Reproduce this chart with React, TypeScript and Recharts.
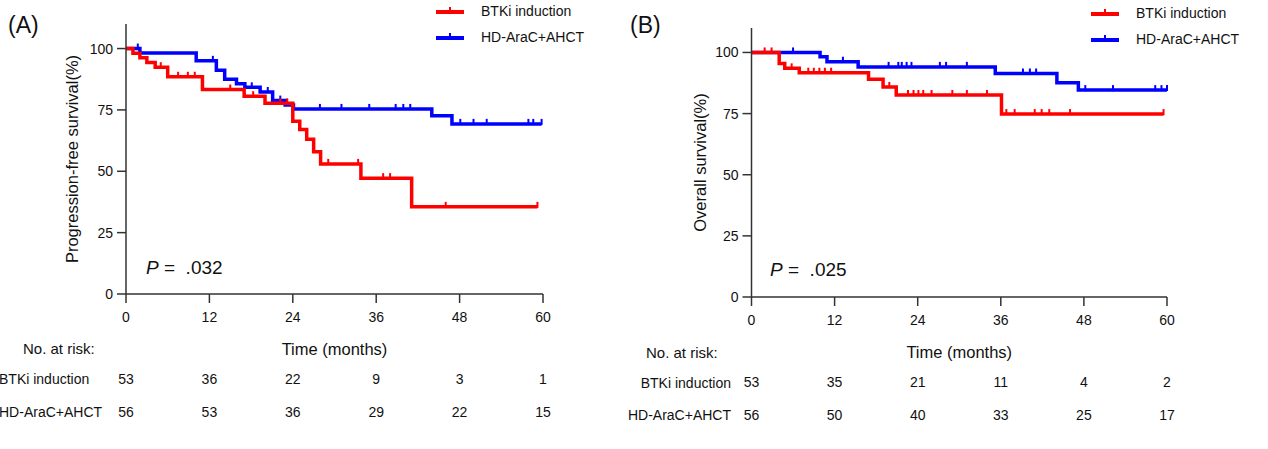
import React from 'react';
import { ComposedChart, Line, XAxis, YAxis } from 'recharts';

const months = [0, 12, 24, 36, 48, 60];
const survTicks = [0, 25, 50, 75, 100];
const groups = ['BTKi induction', 'HD-AraC+AHCT'];

// (A) progression-free survival: [month, %] after each drop, censor times
const pfsBtkiSteps = [[0, 100], [1, 98.1], [2, 96.2], [3, 94.3], [4.2, 92.4], [6, 88.5], [11, 83.3], [17, 80.6], [20, 77.7], [24, 70.4], [25, 67], [26, 63], [27, 58], [28, 53], [33.8, 47.2], [41.1, 35.5]];
const pfsBtkiCensor = [5, 7.5, 8.9, 9.9, 15, 18.3, 22.2, 23.2, 29.1, 33.4, 37, 38, 46, 59.2];
const pfsHdSteps = [[0, 100], [2, 98.2], [10.1, 95], [13, 91.2], [14.2, 87.5], [15.9, 85.7], [17.1, 84.2], [19.3, 82.3], [21.1, 78.8], [22.9, 77], [24.1, 75.4], [44, 72.6], [46.9, 69.3]];
const pfsHdCensor = [1.7, 12.5, 18.1, 20.4, 22.2, 27.9, 31, 35, 38.8, 39.9, 40.9, 48.1, 50, 51.9, 57.9, 58.6, 59.8];
const pfsRiskBtki = [53, 36, 22, 9, 3, 1];
const pfsRiskHd = [56, 53, 36, 29, 22, 15];

// (B) overall survival
const osBtkiSteps = [[0, 100], [4, 95.5], [4.8, 93.5], [6.9, 91.7], [16.9, 89], [19, 85.9], [20.9, 82.6], [36.1, 74.8]];
const osBtkiCensor = [1.9, 2.9, 5.8, 8.2, 9, 9.8, 10.6, 11.5, 19.9, 22.6, 23.4, 24.1, 24.8, 26, 29, 31.1, 34, 36.8, 38, 40.9, 41.9, 43, 46, 59.5];
const osHdSteps = [[0, 100], [9.9, 98.2], [10.9, 96.2], [15.4, 94.1], [35.2, 91.4], [44.1, 87.6], [47.2, 84.6]];
const osHdCensor = [6, 13.2, 19.8, 21.2, 21.7, 22.4, 23.1, 27.2, 28.1, 31.1, 39.2, 40.2, 41.1, 48.2, 52.2, 58.3, 59.2, 60];
const osRiskBtki = [53, 35, 21, 11, 4, 2];
const osRiskHd = [56, 50, 40, 33, 25, 17];

const RED = '#ff0000';
const BLUE = '#0000ff';
const FONT = '"Liberation Sans", Arial, sans-serif';
const AXIS = '#333';

function buildSeries(steps: number[][], censor: number[]) {
  const pts = steps.map(([t, v]) => ({ t, v, c: false }));
  censor.forEach((t) => {
    let v = steps[0][1];
    steps.forEach((s) => { if (s[0] <= t) v = s[1]; });
    pts.push({ t, v, c: true });
  });
  return pts.sort((a, b) => a.t - b.t);
}

const censorDot = (color: string) => (p: any) => {
  if (!p.payload || !p.payload.c) return <g key={p.index} />;
  return <line key={p.index} x1={p.cx} x2={p.cx} y1={p.cy - 5} y2={p.cy + 1} stroke={color} strokeWidth={2} />;
};

const riskTick = (rows: number[][]) => (p: any) => {
  const { x, y, payload, index } = p;
  return (
    <g>
      <text x={x} y={y} dy="0.71em" textAnchor="middle" fontSize={14} fill="#111" fontFamily={FONT}>{payload.value}</text>
      {rows.map((r, i) => (
        <text key={i} x={x} y={y + 67 + i * 33} dy="0.35em" textAnchor="middle" fontSize={14} fill="#111" fontFamily={FONT}>{r[index]}</text>
      ))}
    </g>
  );
};

function LegendBox({ left, top }: { left: number; top: number }) {
  const colors = [RED, BLUE];
  return (
    <div style={{ position: 'absolute', left, top, fontFamily: FONT, fontSize: 14, color: '#111' }}>
      {groups.map((g, i) => (
        <div key={g} style={{ display: 'flex', alignItems: 'center', height: 26 }}>
          <svg width={30} height={10}>
            <line x1={1} x2={29} y1={6} y2={6} stroke={colors[i]} strokeWidth={4} />
            <line x1={15} x2={15} y1={1} y2={6} stroke={colors[i]} strokeWidth={2} />
          </svg>
          <span style={{ marginLeft: 16 }}>{g}</span>
        </div>
      ))}
    </div>
  );
}

type PanelProps = {
  left: number; width: number; top: number; bottom: number; axisLeft: number; labelX: number; right: number;
  yLabel: string; btki: any[]; hd: any[]; risk: number[][];
};

function Panel(p: PanelProps) {
  return (
    <div style={{ position: 'absolute', left: p.left, top: 0 }}>
      <ComposedChart width={p.width} height={449}
        margin={{ top: p.top, right: p.right, bottom: 449 - p.bottom - 30, left: p.labelX }}>
        <XAxis type="number" dataKey="t" domain={[0, 60]} ticks={months} height={30}
          tickSize={9} tickMargin={9} stroke={AXIS} strokeWidth={1.5}
          tick={riskTick(p.risk)}
          label={{ value: 'Time (months)', position: 'bottom', offset: 19, fontSize: 16.5, fill: '#111', fontFamily: FONT }} />
        <YAxis type="number" domain={[0, 110]} ticks={survTicks} width={p.axisLeft - p.labelX}
          tickSize={9} tickMargin={4} stroke={AXIS} strokeWidth={1.5}
          tick={{ fontSize: 14, fill: '#111', fontFamily: FONT }}
          label={{ value: p.yLabel, angle: -90, position: 'center', fontSize: 16.5, fill: '#111', fontFamily: FONT }} />
        <Line data={p.hd} dataKey="v" type="stepAfter" stroke={BLUE} strokeWidth={3.5}
          dot={censorDot(BLUE)} activeDot={false} isAnimationActive={false} />
        <Line data={p.btki} dataKey="v" type="stepAfter" stroke={RED} strokeWidth={3.5}
          dot={censorDot(RED)} activeDot={false} isAnimationActive={false} />
      </ComposedChart>
    </div>
  );
}

const txt = (left: number, top: number, s: React.ReactNode, size = 14, extra: any = {}) => (
  <div style={{ position: 'absolute', left, top, fontFamily: FONT, fontSize: size, color: '#111', lineHeight: '20px', whiteSpace: 'nowrap', ...extra }}>{s}</div>
);

export default function App() {
  return (
    <div style={{ position: 'absolute', left: 0, top: 0, width: 1268, height: 449, background: '#fff', overflow: 'hidden' }}>
      <Panel left={0} width={620} top={24} bottom={294} axisLeft={126} labelX={18} right={77}
        yLabel="Progression-free survival(%)"
        btki={buildSeries(pfsBtkiSteps, pfsBtkiCensor)} hd={buildSeries(pfsHdSteps, pfsHdCensor)}
        risk={[pfsRiskBtki, pfsRiskHd]} />
      <Panel left={620} width={648} top={28} bottom={297} axisLeft={131.5} labelX={28} right={101}
        yLabel="Overall survival(%)"
        btki={buildSeries(osBtkiSteps, osBtkiCensor)} hd={buildSeries(osHdSteps, osHdCensor)}
        risk={[osRiskBtki, osRiskHd]} />

      {txt(8, 12, '(A)', 23, { lineHeight: '26px' })}
      {txt(630, 12, '(B)', 23, { lineHeight: '26px' })}
      <LegendBox left={435} top={-2} />
      <LegendBox left={1090} top={0} />

      {txt(146, 258, <><i>P</i> =&nbsp; .032</>, 19)}
      {txt(770, 260, <><i>P</i> =&nbsp; .025</>, 19)}

      {txt(23, 339, 'No. at risk:', 15)}
      {txt(-1, 369, groups[0])}
      {txt(-1, 402, groups[1])}
      {txt(646, 343, 'No. at risk:', 15)}
      {txt(0, 373, groups[0], 14, { width: 731, textAlign: 'right' })}
      {txt(0, 405, groups[1], 14, { width: 731, textAlign: 'right' })}
    </div>
  );
}
